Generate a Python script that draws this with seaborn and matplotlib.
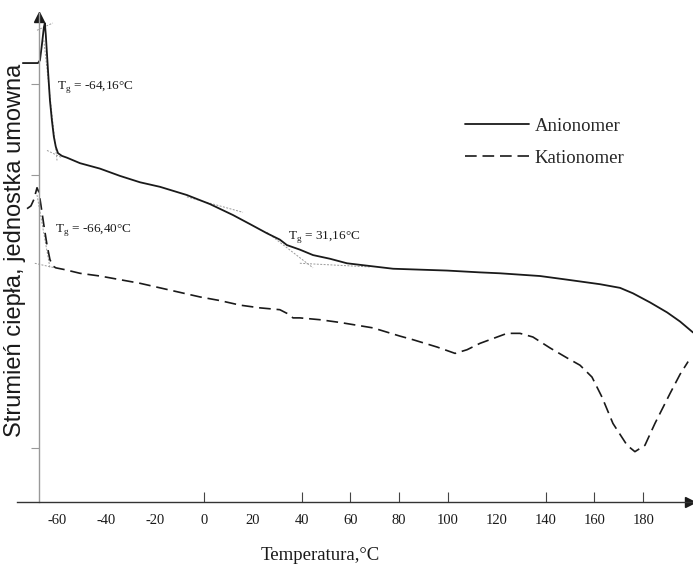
import numpy as np
import pandas as pd
import seaborn as sns
import matplotlib.pyplot as plt

# DSC curves (heat flow in arbitrary units)
anion_T = [-74.2, -68.0, -67.2, -66.4, -65.6, -65.2, -64.8, -63.9, -63.1, -62.3,
           -61.5, -60.7, -59.8, -58.2, -56.1, -50.8, -42.6, -34.4, -26.2, -18.0,
           -7.0, 2.5, 11.9, 18.9, 25.8, 31.1, 34.0, 39.3, 44.7, 51.6,
           58.6, 68.0, 77.5, 88.5, 99.6, 113.1, 121.3, 137.7, 148.8, 162.3,
           170.5, 175.8, 182.8, 189.8, 195.1, 200.4]
anion_q = [52.3, 52.3, 52.6, 54.3, 56.2, 56.7, 55.4, 51.5, 48.2, 46.0,
           44.2, 43.1, 42.4, 42.1, 41.9, 41.3, 40.7, 39.9, 39.2, 38.7,
           37.8, 36.8, 35.6, 34.6, 33.6, 32.9, 32.3, 31.8, 31.2, 30.8,
           30.3, 30.0, 29.7, 29.6, 29.5, 29.3, 29.2, 28.9, 28.5, 28.0,
           27.6, 27.0, 26.0, 24.9, 23.9, 22.7]

kation_T = [-72.5, -70.9, -69.7, -68.4, -67.6, -66.8, -65.6, -64.3, -63.1, -61.9,
            -60.7, -57.0, -50.8, -42.6, -34.4, -26.2, -18.0, -9.8, -1.6, 6.6,
            14.8, 23.0, 31.1, 34.0, 36.5, 39.3, 47.5, 55.7, 69.3, 80.3,
            85.7, 95.5, 102.9, 107.8, 113.1, 124.2, 129.5, 134.8, 141.8, 148.8,
            154.1, 159.0, 163.1, 167.6, 173.4, 176.6, 180.7, 184.8, 191.0, 195.1,
            198.4]
kation_q = [36.3, 36.6, 37.3, 38.6, 38.1, 36.7, 34.5, 32.3, 30.7, 30.0,
            29.8, 29.6, 29.2, 28.9, 28.5, 28.1, 27.6, 27.1, 26.6, 26.2,
            25.7, 25.4, 25.2, 24.8, 24.3, 24.3, 24.1, 23.8, 23.2, 22.3,
            21.9, 21.1, 20.4, 20.8, 21.5, 22.6, 22.6, 22.2, 21.0, 19.9,
            19.1, 17.8, 15.6, 12.7, 10.3, 9.6, 10.3, 12.7, 16.0, 18.1,
            19.5]

# thin construction lines used for the Tg determination
tangents = [
    ([-68.4, -61.9], [55.9, 56.7]),
    ([-65.6, -60.2], [54.8, 41.6]),
    ([-64.3, -58.2], [42.7, 41.9]),
    ([-69.3, -61.1], [30.3, 29.8]),
    ([-68.4, -63.1], [37.8, 29.8]),
    ([-7.0, 16.0], [37.6, 35.9]),
    ([25.8, 44.7], [33.7, 29.8]),
    ([39.3, 68.0], [30.3, 29.9]),
]

tg_labels = ["-64,16", "-66,40", "31,16"]
tg_pos = [(-60.2, 49.7), (-61.1, 34.0), (34.4, 33.2)]

xtick_vals = [-60, -40, -20, 0, 20, 40, 60, 80, 100, 120, 140, 160, 180]
xtick_marks = [0, 40, 60, 80, 100, 140, 160, 180]
ytick_marks = [10, 40, 50]

sns.set_theme(style="white")
plt.rcParams['font.family'] = ['Liberation Serif', 'DejaVu Serif']
plt.rcParams['mathtext.fontset'] = 'custom'
plt.rcParams['mathtext.rm'] = 'Liberation Serif'

fig = plt.figure(figsize=(6.93, 5.64), dpi=100)
ax = fig.add_axes([17 / 693, 62 / 564, 676 / 693, 489 / 564])

df_a = pd.DataFrame({'T': anion_T, 'q': anion_q})
df_k = pd.DataFrame({'T': kation_T, 'q': kation_q})

for tx, ty in tangents:
    ax.plot(tx, ty, color='#9a9a9a', lw=0.7, ls=(0, (2, 1.5)))

sns.lineplot(data=df_a, x='T', y='q', sort=False, estimator=None, color='#1a1a1a',
             lw=1.3, label='Anionomer', ax=ax)
sns.lineplot(data=df_k, x='T', y='q', sort=False, estimator=None, color='#1a1a1a',
             lw=1.2, ls=(0, (7, 3.5)), label='Kationomer', ax=ax)

for lab, (tx, ty) in zip(tg_labels, tg_pos):
    ax.text(tx, ty, r'T$_\mathregular{g}$ = ' + lab + '°C', fontsize=9.5,
            ha='left', va='center', color='#1a1a1a')

xmin, xmax = -76.6, 200.4
ymin, ymax = 4.07, 57.8
ax.set_xlim(xmin, xmax)
ax.set_ylim(ymin, ymax)

ax.spines['top'].set_visible(False)
ax.spines['right'].set_visible(False)
ax.spines['left'].set_position(('data', -67.6))
ax.spines['left'].set_color('#999999')
ax.spines['bottom'].set_color('#333333')
ax.spines['left'].set_linewidth(1.0)
ax.spines['bottom'].set_linewidth(1.0)

# axis arrows
ax.plot([-67.6], [ymax - 0.45], marker='^', color='#1a1a1a', ms=7, clip_on=False)
ax.plot([xmax - 1.3], [ymin], marker='>', color='#1a1a1a', ms=7, clip_on=False)

ax.set_xticks(xtick_vals)
ax.set_xticklabels([str(v) for v in xtick_vals])
ax.set_xticks(xtick_marks, minor=True)
ax.xaxis.remove_overlapping_locs = False
ax.tick_params(axis='x', which='major', bottom=True, length=0, pad=9, labelsize=10.5,
               labelcolor='#1a1a1a')
ax.tick_params(axis='x', which='minor', bottom=True, direction='in', length=7, width=0.8,
               color='#444444')
ax.set_yticks(ytick_marks)
ax.set_yticklabels([])
ax.tick_params(axis='y', which='major', left=True, direction='out', length=6, width=0.8,
               color='#999999')
ax.set_xlabel('')
ax.set_ylabel('')

ax.legend(loc='upper left', bbox_to_anchor=((465 - 17) / 676, 0.786), frameon=False,
          borderpad=0, borderaxespad=0, handlelength=3.4, handletextpad=0.3,
          labelspacing=0.8, fontsize=13.5)

fig.text(320 / 693, 1 - 555 / 564, 'Temperatura,°C', ha='center', va='center',
         fontsize=13.5, color='#1a1a1a')
fig.text(15 / 693, 1 - 250 / 564, 'Strumień ciepła, jednostka umowna', rotation=90,
         ha='center', va='center', fontsize=17, color='#1a1a1a',
         family=['Liberation Sans', 'DejaVu Sans'])

fig.savefig('out.png', dpi=100)
